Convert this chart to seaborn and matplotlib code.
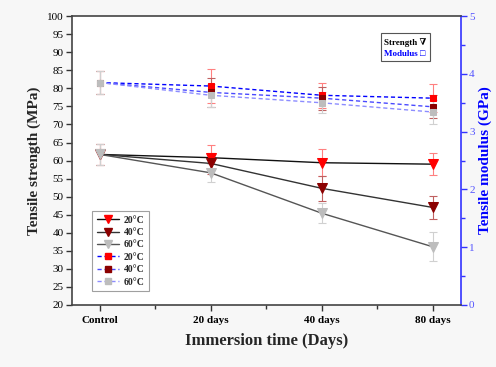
import numpy as np
import pandas as pd
import matplotlib
matplotlib.use("Agg")
import matplotlib.pyplot as plt
from matplotlib.ticker import MultipleLocator, FixedLocator
import seaborn as sns

categories = ["Control", "20 days", "40 days", "80 days"]
temps = ["20°C", "40°C", "60°C"]

strength_20 = [61.7, 60.8, 59.4, 59.0]
strength_40 = [61.7, 59.2, 52.3, 47.0]
strength_60 = [61.7, 56.6, 45.4, 36.1]
strength_err_20 = [2.8, 3.5, 3.8, 3.0]
strength_err_40 = [2.8, 3.0, 3.5, 3.2]
strength_err_60 = [2.8, 2.5, 2.8, 4.0]

modulus_20 = [3.85, 3.79, 3.63, 3.58]
modulus_40 = [3.85, 3.68, 3.58, 3.43]
modulus_60 = [3.85, 3.63, 3.50, 3.34]
modulus_err_20 = [0.2, 0.3, 0.22, 0.24]
modulus_err_40 = [0.2, 0.25, 0.2, 0.2]
modulus_err_60 = [0.2, 0.2, 0.18, 0.2]

sns.set_theme(style="white")
plt.rcParams['font.family'] = ['Liberation Serif', 'DejaVu Serif']

fig = plt.figure(figsize=(4.96, 3.67), dpi=100)
ax = fig.add_axes([0.145, 0.169, 0.784, 0.787])
ax2 = ax.twinx()

pos = np.arange(len(categories))

str_series = [strength_20, strength_40, strength_60]
str_errs = [strength_err_20, strength_err_40, strength_err_60]
mod_series = [modulus_20, modulus_40, modulus_60]
mod_errs = [modulus_err_20, modulus_err_40, modulus_err_60]

marker_cols = ["#ff0000", "#8b0000", "#bdbdbd"]
str_line_cols = ["#111111", "#333333", "#555555"]
mod_line_cols = ["#0000ff", "#4a4aff", "#8c8cff"]
err_cols = ["#ff8080", "#c06060", "#d0d0d0"]

handles = []
for i, t in enumerate(temps):
    df = pd.DataFrame({"pos": pos, "val": str_series[i]})
    ax.errorbar(pos, str_series[i], yerr=str_errs[i], fmt='none', ecolor=err_cols[i],
                elinewidth=0.8, capsize=3, capthick=0.8, zorder=2)
    sns.lineplot(data=df, x="pos", y="val", ax=ax, color=str_line_cols[i], lw=1.0,
                 marker="v", markersize=7, markerfacecolor=marker_cols[i],
                 markeredgecolor=marker_cols[i], zorder=3)
    h, = ax.plot([], [], color=str_line_cols[i], lw=1.0, marker="v", markersize=6,
                 markerfacecolor=marker_cols[i], markeredgecolor=marker_cols[i], label=t)
    handles.append(h)

for i, t in enumerate(temps):
    df = pd.DataFrame({"pos": pos, "val": mod_series[i]})
    ax2.errorbar(pos, mod_series[i], yerr=mod_errs[i], fmt='none', ecolor=err_cols[i],
                 elinewidth=0.8, capsize=3, capthick=0.8, zorder=2)
    sns.lineplot(data=df, x="pos", y="val", ax=ax2, color=mod_line_cols[i], lw=1.0,
                 linestyle=(0, (3, 2)), marker="s", markersize=5,
                 markerfacecolor=marker_cols[i], markeredgecolor=marker_cols[i], zorder=3)
    h, = ax.plot([], [], color=mod_line_cols[i], lw=1.0, linestyle=(0, (3, 2)), marker="s",
                 markersize=5, markerfacecolor=marker_cols[i], markeredgecolor=marker_cols[i], label=t)
    handles.append(h)

ax.set_xlim(-0.25, 3.25)
ax.set_ylim(20, 100)
ax2.set_ylim(0, 5)

ax.xaxis.set_major_locator(FixedLocator(pos))
ax.set_xticklabels(categories, fontsize=8, fontweight="bold")
ax.xaxis.set_minor_locator(FixedLocator(pos[:-1] + 0.5))
ax.yaxis.set_major_locator(MultipleLocator(5))
ax.tick_params(axis="both", which="major", direction="out", length=4, width=1, colors="#333333",
               labelsize=8, labelcolor="black", bottom=True, left=True, pad=2)
ax.tick_params(axis="x", which="minor", direction="out", length=3, width=1, colors="#333333", bottom=True)
ax.tick_params(axis="x", which="major", pad=4)

ax2.yaxis.set_major_locator(MultipleLocator(1))
ax2.yaxis.set_minor_locator(MultipleLocator(0.5))
ax2.tick_params(axis="y", which="both", direction="out", colors="#3333ff", labelcolor="#5555ff",
                labelsize=8, right=True, width=1, pad=2)
ax2.tick_params(axis="y", which="major", length=4)
ax2.tick_params(axis="y", which="minor", length=3)

for s in ["left", "bottom", "top"]:
    ax.spines[s].set_color("#444444")
    ax.spines[s].set_linewidth(1.2)
ax.spines["right"].set_visible(False)
for s in ["left", "bottom", "top"]:
    ax2.spines[s].set_visible(False)
ax2.spines["right"].set_color("#3333ff")
ax2.spines["right"].set_linewidth(1.2)

ax.set_xlabel("Immersion time (Days)", fontsize=12, fontweight="bold", labelpad=6)
ax.set_ylabel("Tensile strength (MPa)", fontsize=11, fontweight="bold", labelpad=4)
ax2.set_ylabel("Tensile modulus (GPa)", fontsize=11, fontweight="bold", color="#0000ff", labelpad=3)

leg = ax.legend(handles=handles, loc="lower left", bbox_to_anchor=(0.04, 0.03),
                prop={"family": "Liberation Serif", "weight": "bold", "size": 7},
                frameon=True, fancybox=False, edgecolor="#888888", handlelength=2.2,
                handletextpad=0.5, labelspacing=0.35, borderpad=0.5)
leg.get_frame().set_linewidth(0.8)
leg.set_zorder(10)

box = plt.Rectangle((0.795, 0.845), 0.125, 0.095, transform=ax.transAxes, fc="white",
                    ec="#555555", lw=0.8, zorder=5)
ax.add_patch(box)
ax.text(0.91, 0.91, "Strength \u2207", transform=ax.transAxes, ha="right", va="center",
        fontsize=6.5, fontweight="bold", color="black", zorder=6)
ax.text(0.91, 0.87, "Modulus \u25a1", transform=ax.transAxes, ha="right", va="center",
        fontsize=6.5, fontweight="bold", color="#0000ff", zorder=6)

ax.set_zorder(ax2.get_zorder() + 1)
ax.patch.set_visible(False)
ax2.patch.set_visible(True)
ax2.patch.set_facecolor("white")
fig.patch.set_facecolor("#f7f7f7")

fig.savefig("out.png", dpi=100)
